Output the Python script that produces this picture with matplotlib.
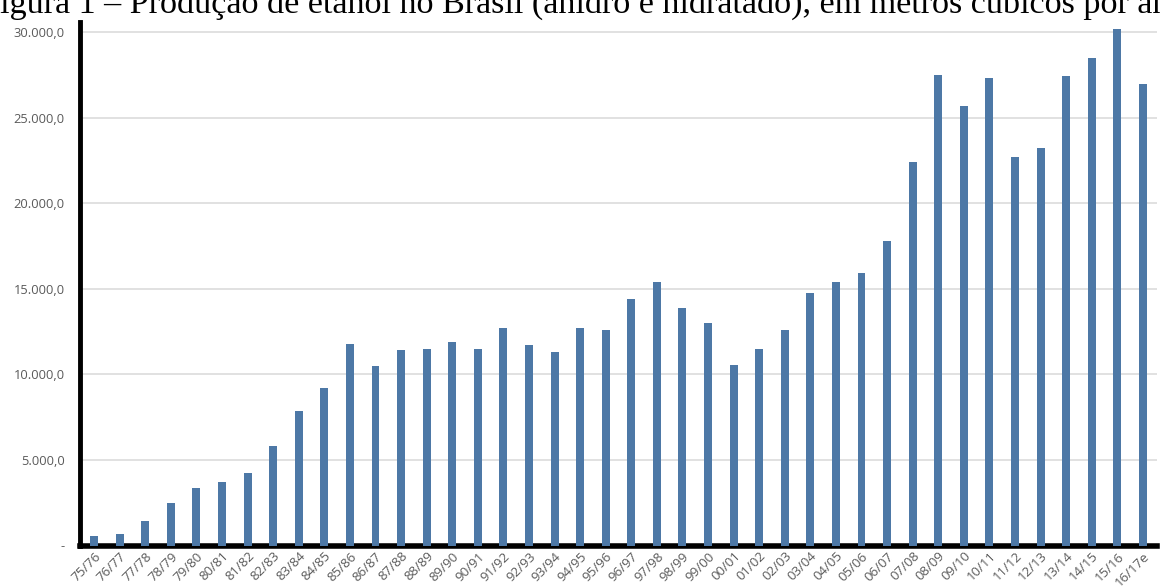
import matplotlib
matplotlib.use("Agg")
import matplotlib.pyplot as plt
import numpy as np

safras = ["75/76", "76/77", "77/78", "78/79", "79/80", "80/81", "81/82", "82/83",
          "83/84", "84/85", "85/86", "86/87", "87/88", "88/89", "89/90", "90/91",
          "91/92", "92/93", "93/94", "94/95", "95/96", "96/97", "97/98", "98/99",
          "99/00", "00/01", "01/02", "02/03", "03/04", "04/05", "05/06", "06/07",
          "07/08", "08/09", "09/10", "10/11", "11/12", "12/13", "13/14", "14/15",
          "15/16", "16/17e"]
producao = [556, 664, 1450, 2480, 3370, 3706, 4240, 5800, 7850, 9200,
            11770, 10480, 11430, 11450, 11900, 11500, 12700, 11695, 11290, 12700,
            12580, 14400, 15380, 13880, 13000, 10560, 11500, 12600, 14750, 15380,
            15910, 17764, 22380, 27500, 25680, 27320, 22680, 23220, 27450, 28480,
            30200, 26950]
yticks = [0, 5000, 10000, 15000, 20000, 25000, 30000]
ytick_labels = ["-", "5.000,0", "10.000,0", "15.000,0", "20.000,0", "25.000,0", "30.000,0"]
titulo = "Figura 1 – Produção de etanol no Brasil (anidro e hidratado), em metros cúbicos por ano"

fig = plt.figure(figsize=(11.6, 5.87), dpi=100)
ax = fig.add_axes([80/1160, 41.5/587, 1077/1160, (545.5-22)/587])

x = np.arange(len(safras))
ax.bar(x, producao, width=0.31, color="#4d78a6", zorder=3)

ax.set_xlim(-0.55, len(safras) - 1 + 0.55)
ax.set_ylim(0, 30580)
ax.set_yticks(yticks)
ax.set_yticklabels(ytick_labels, fontsize=9.3, color="#5a5a5a", family="Open Sans")
ax.set_xticks(x)
ax.set_xticklabels(safras, rotation=45, ha="right", rotation_mode="anchor",
                   fontsize=9.5, color="#5a5a5a", family="Open Sans")
ax.tick_params(axis="y", length=0, pad=11)
ax.tick_params(axis="x", length=0, pad=3)

ax.grid(axis="y", color="#dcdcdc", linewidth=1.2, zorder=0)
for s in ["top", "right"]:
    ax.spines[s].set_visible(False)
ax.spines["left"].set_linewidth(3.5)
ax.spines["bottom"].set_linewidth(4.0)
ax.spines["left"].set_color("black")
ax.spines["bottom"].set_color("black")

fig.text(-0.016, 1 - 13/587, titulo, ha="left", va="baseline",
         fontsize=24.6, family="Liberation Serif", color="black")

fig.savefig("out.png", dpi=100)
